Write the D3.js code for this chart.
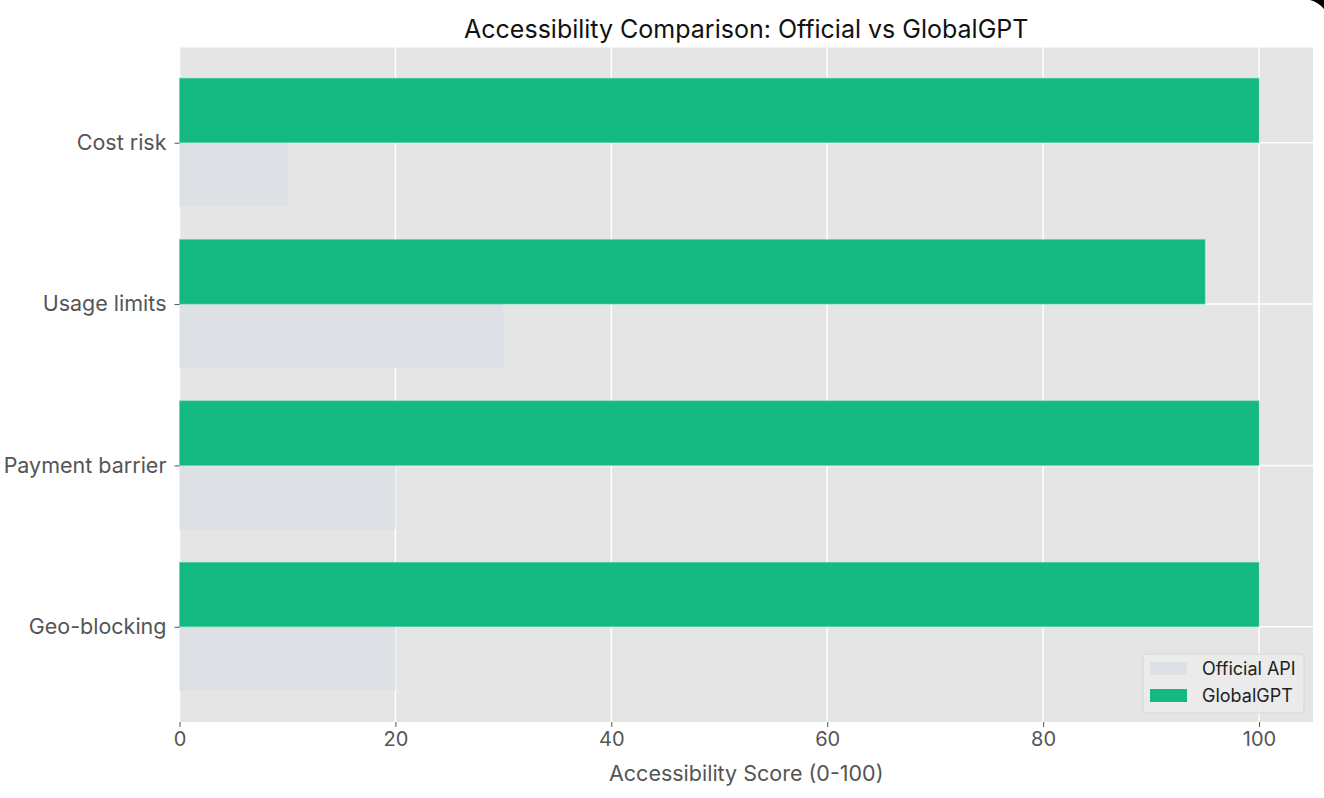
<!DOCTYPE html>
<html><head><meta charset="utf-8">
<script src="https://cdn.jsdelivr.net/npm/d3@7"></script>
<style>
html,body{margin:0;padding:0;background:#fff;}
svg{display:block;font-family:Inter,"Open Sans",sans-serif;}
</style></head>
<body>
<svg id="chart" width="1324" height="798"></svg>
<script>
const categories = ["Geo-blocking", "Payment barrier", "Usage limits", "Cost risk"];
const officialValues = [20, 20, 30, 10];
const globalValues = [100, 100, 95, 100];
const seriesNames = ["Official API", "GlobalGPT"];
const xTicks = [0, 20, 40, 60, 80, 100];
const titleText = "Accessibility Comparison: Official vs GlobalGPT";
const xLabelText = "Accessibility Score (0-100)";

const colors = {official: "#dde0e5", global: "#14b981"};
const svg = d3.select("#chart");
const L = 179.5, R = 1313, T = 47.5, B = 722;

const x = d3.scaleLinear().domain([0, 105]).range([L, R]);
const y = d3.scaleLinear().domain([-0.59, 3.59]).range([B, T]);
const barH = 0.4;

// background
svg.append("rect").attr("x", L).attr("y", T).attr("width", R - L).attr("height", B - T).attr("fill", "#e5e5e5");

// grid
svg.append("g").selectAll("line").data(xTicks).join("line")
  .attr("x1", d => x(d)).attr("x2", d => x(d)).attr("y1", T).attr("y2", B)
  .attr("stroke", "#fff").attr("stroke-width", 1.5);
svg.append("g").selectAll("line").data(categories).join("line")
  .attr("x1", L).attr("x2", R).attr("y1", (d, i) => y(i)).attr("y2", (d, i) => y(i))
  .attr("stroke", "#fff").attr("stroke-width", 1.5);

// bars
svg.append("g").selectAll("rect").data(officialValues).join("rect")
  .attr("x", x(0)).attr("width", d => x(d) - x(0))
  .attr("y", (d, i) => y(i)).attr("height", y(0) - y(barH) - 0.5)
  .attr("fill", colors.official);
svg.append("g").selectAll("rect").data(globalValues).join("rect")
  .attr("x", x(0)).attr("width", d => x(d) - x(0))
  .attr("y", (d, i) => y(i + barH)).attr("height", y(0) - y(barH))
  .attr("fill", colors.global).attr("stroke", "#5fd0a8").attr("stroke-width", 0.6);

// x axis
const xAxis = svg.append("g").attr("transform", `translate(0,${B})`)
  .call(d3.axisBottom(x).tickValues(xTicks).tickSize(5).tickPadding(5).tickFormat(d3.format("d")));
xAxis.select(".domain").remove();
xAxis.selectAll("line").attr("stroke", "#555");
xAxis.selectAll("text").attr("fill", "#555").attr("font-size", 20).attr("font-family", "Inter,sans-serif");

// y axis
const yAxis = svg.append("g").attr("transform", `translate(${L},0)`)
  .call(d3.axisLeft(y).tickValues(d3.range(categories.length)).tickSize(5).tickPadding(8).tickFormat(i => categories[i]));
yAxis.select(".domain").remove();
yAxis.selectAll("line").attr("stroke", "#555");
yAxis.selectAll("text").attr("fill", "#555").attr("font-size", 21.5).attr("font-family", "Inter,sans-serif");

// title
svg.append("text").attr("x", (L + R) / 2).attr("y", 38).attr("text-anchor", "middle")
  .attr("font-size", 25).attr("fill", "#111").text(titleText);
// x label
svg.append("text").attr("x", (L + R) / 2).attr("y", 781).attr("text-anchor", "middle")
  .attr("font-size", 21.5).attr("fill", "#555").text(xLabelText);

// legend
const lg = svg.append("g").attr("transform", "translate(1143,654)");
lg.append("rect").attr("width", 161).attr("height", 59).attr("rx", 3)
  .attr("fill", "#ececec").attr("fill-opacity", 0.85).attr("stroke", "#d6d6d6");
const legendColors = [colors.official, colors.global];
seriesNames.forEach((n, i) => {
  lg.append("rect").attr("x", 7).attr("y", 8 + i * 27).attr("width", 37).attr("height", 13).attr("fill", legendColors[i]);
  lg.append("text").attr("x", 59).attr("y", 21 + i * 27).attr("font-size", 18).attr("fill", "#222").text(n);
});

// screenshot corner artifact
svg.append("path").attr("d", "M1310,0 L1324,0 L1324,9 Q1318,2 1310,0 Z").attr("fill", "#000");
</script>
</body></html>
